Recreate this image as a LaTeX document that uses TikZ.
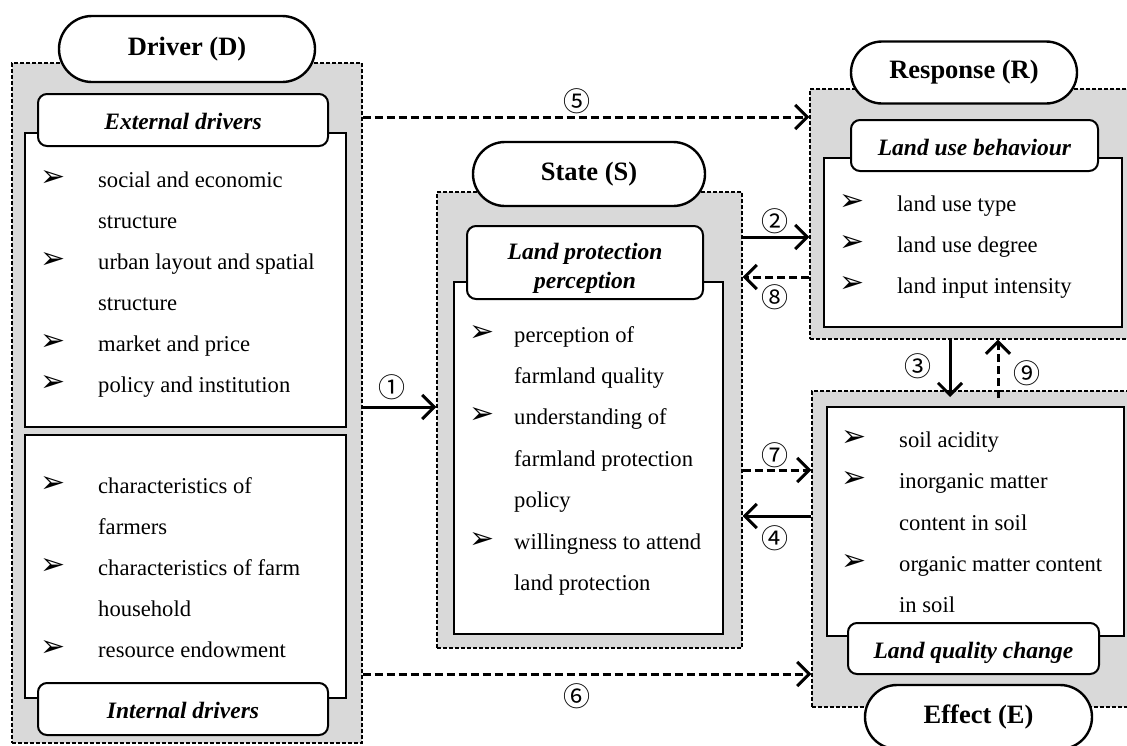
\documentclass[tikz,border=0pt]{standalone}
\usepackage{fontspec}
\setmainfont{Liberation Serif}
\newfontfamily\symfont{DejaVu Sans}
\newfontfamily\circfont{Noto Sans CJK SC}
\usetikzlibrary{arrows.meta}
\definecolor{grayfill}{HTML}{D9D9D9}
\tikzset{
  grp/.style={draw, fill=grayfill, line width=1.3pt, dash pattern=on 4pt off 2pt, inner sep=0pt},
  listbox/.style={draw, fill=white, line width=2pt, inner sep=0pt},
  headbox/.style={draw, fill=white, line width=2pt, rounded corners=9pt, inner sep=0pt, align=center,
    text height=20pt, text depth=1pt,
    font=\fontsize{23.5}{29}\selectfont\bfseries\itshape},
  headtxt/.style={inner sep=0pt, align=center, font=\fontsize{23.5}{29}\selectfont\bfseries\itshape},
  titlebox/.style={draw, fill=white, line width=2.4pt, inner sep=0pt,
    font=\fontsize{26.5}{30}\selectfont\bfseries},
  txt/.style={anchor=base west, inner sep=0pt, font=\fontsize{22.6}{27}\selectfont},
  bul/.style={inner sep=0pt, font=\symfont\fontsize{30}{30}\selectfont},
  num/.style={inner sep=0pt, font=\circfont\fontsize{27}{27}\selectfont},
  solidarr/.style={line width=3pt, -{Straight Barb[length=12pt,width=24pt]}},
  dasharr/.style={solidarr, dash pattern=on 8pt off 4pt}
}
\begin{document}
\begin{tikzpicture}[x=1pt,y=-1pt]
\useasboundingbox (0,0) rectangle (1127,745);
\clip (0,0) rectangle (1127,745);
\fill[white] (0,0) rectangle (1127,745);

% groups
\node[grp, minimum width=350pt, minimum height=680pt] (dg) at (187,403) {};
\node[grp, minimum width=305pt, minimum height=456pt] (sg) at (589.5,420) {};
\node[grp, minimum width=330pt, minimum height=250pt] (rg) at (975,214) {};
\node[grp, minimum width=328pt, minimum height=316pt] (eg) at (976,549) {};

% list boxes
\node[listbox, minimum width=321pt, minimum height=294pt] (ext) at (185.5,280) {};
\node[listbox, minimum width=321pt, minimum height=263pt] (int) at (185.5,566.5) {};
\node[listbox, minimum width=269pt, minimum height=352pt] (st) at (588.5,458) {};
\node[listbox, minimum width=298pt, minimum height=169pt] (rs) at (973,242.5) {};
\node[listbox, minimum width=297pt, minimum height=229pt] (ef) at (975.5,521.5) {};

% head boxes
\node[headbox, minimum width=290pt, minimum height=52pt] (hext) at (183,120) {External drivers};
\node[headbox, minimum width=290pt, minimum height=52pt] (hint) at (183,709) {Internal drivers};
\node[headbox, minimum width=236pt, minimum height=73pt] (hst) at (585,262.5) {};
\node[headtxt] (hsttxt) at (585,268.5) {Land protection\\perception};
\node[headbox, minimum width=247pt, minimum height=51pt] (hrs) at (974.5,145.5) {Land use behaviour};
\node[headbox, minimum width=251pt, minimum height=51pt] (hef) at (973.5,648.5) {Land quality change};

% title stadiums
\node[titlebox, rounded corners=33pt, minimum width=256pt, minimum height=66pt] (td) at (187,49) {\raisebox{-3pt}{Driver (D)}};
\node[titlebox, rounded corners=32pt, minimum width=232pt, minimum height=64pt] (ts) at (589,174) {State (S)};
\node[titlebox, rounded corners=31pt, minimum width=226pt, minimum height=62pt] (tr) at (964,72.5) {Response (R)};
\node[titlebox, rounded corners=32pt, minimum width=227pt, minimum height=64pt] (te) at (978.5,717) {Effect (E)};

% text lines
\foreach \x/\y/\t [count=\i] in {
  98/187/social and economic, 98/228/structure, 98/269/urban layout and spatial, 98/310/structure,
  98/351/market and price, 98/392/policy and institution,
  98/493/characteristics of, 98/534/farmers, 98/575/characteristics of farm, 98/616/household,
  98/657/resource endowment,
  514/342/perception of, 514/383/farmland quality, 514/424/understanding of, 514/466/farmland protection,
  514/507/policy, 514/549/willingness to attend, 514/590/land protection,
  897/211/land use type, 897/252/land use degree, 897/293/land input intensity,
  899/447/soil acidity, 899/488/inorganic matter, 899/530/content in soil,
  899/571/organic matter content, 899/612/in soil}
  \node[txt] (t\i) at (\x,\y) {\t};

% bullets
\foreach \x/\y [count=\i] in {53/187, 53/269, 53/351, 53/392, 53/493, 53/575, 53/657,
  482/342, 482/424, 482/549, 852/211, 852/252, 852/293, 854/447, 854/488, 854/571}
  \node[bul] (b\i) at (\x,\y-8.5) {➢};

% connectors
\coordinate (c3) at (950,397);
\coordinate (c9) at (998,398);
\draw[solidarr] (dg.east |- 0,407) -- (sg.west |- 0,407);
\draw[dasharr] (dg.east |- 0,117) -- (rg.west |- 0,117);
\draw[dasharr] (dg.east |- 0,674) -- (eg.west |- 0,674);
\draw[solidarr] (sg.east |- 0,237) -- (rg.west |- 0,237);
\draw[dasharr] (rg.west |- 0,277) -- (sg.east |- 0,277);
\draw[dasharr] (sg.east |- 0,470) -- (eg.west |- 0,470);
\draw[solidarr] (eg.west |- 0,516) -- (sg.east |- 0,516);
\draw[solidarr] (rg.south -| 950,0) -- (c3);
\draw[dasharr] (c9) -- (rg.south -| 998,0);

% labels
\node[num] (n1) at (392,387) {①};
\node[num] (n2) at (775,221) {②};
\node[num] (n3) at (918,366) {③};
\node[num] (n4) at (775,538) {④};
\node[num] (n5) at (577,101) {⑤};
\node[num] (n6) at (577,696) {⑥};
\node[num] (n7) at (775,455) {⑦};
\node[num] (n8) at (775,297) {⑧};
\node[num] (n9) at (1027,373) {⑨};
\end{tikzpicture}
\end{document}
